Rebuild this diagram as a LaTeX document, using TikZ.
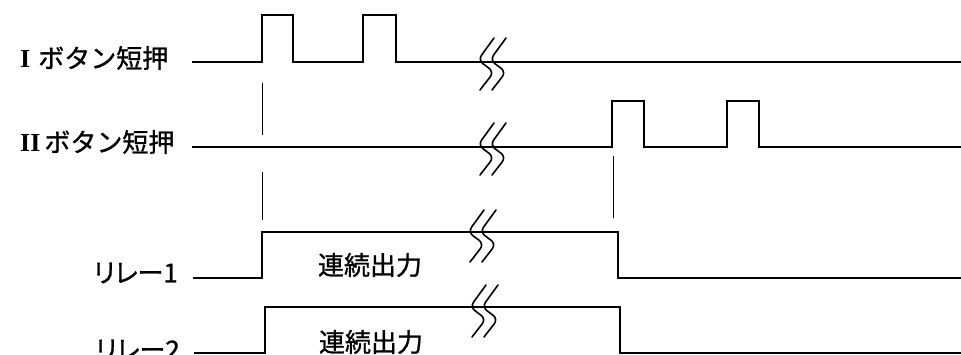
\documentclass[tikz,border=0pt]{standalone}
\usepackage{fontspec}
\newfontfamily\jp[FakeBold=1]{Noto Sans CJK JP}
\newfontfamily\jpp[RawFeature=+palt,FakeBold=1]{Noto Sans CJK JP}
\newfontfamily\rnum{Liberation Serif}
\tikzset{
  sig/.style={line width=2pt, line join=miter},
  guide/.style={line width=1pt},
  brkline/.style={line width=1.6pt, rounded corners=6pt, line cap=round},
  lbl/.style={font=\jp\fontsize{26}{26}\selectfont, inner sep=0pt},
  brkmark/.pic={
    \draw[brkline] (16,-22) -- (0,0) -- (16,12) -- (2,30);
    \draw[brkline] (28,-22) -- (12,0) -- (28,12) -- (14,30);
  }
}
\begin{document}
\begin{tikzpicture}[x=1pt,y=-1pt]
\useasboundingbox (0,0) rectangle (961,355);

% labels
\node[lbl, anchor=west] (lab1) at (20,58) {{\rnum\bfseries I}\hspace{8pt}ボタン短押};
\node[lbl, anchor=west] (lab2) at (20,142) {{\rnum\bfseries II}\hspace{4pt}ボタン短押};
\node[lbl, anchor=east] (lab3) at (178,273) {\jpp リレー1};
\node[lbl, anchor=east] (lab4) at (180,350) {\jpp リレー2};
\node[lbl] (out1) at (370,265) {連続出力};
\node[lbl] (out2) at (371,342) {連続出力};

% coordinates
\coordinate (s1) at (192,62);   \coordinate (e1) at (961,62);
\coordinate (s2) at (192,147.5); \coordinate (e2) at (961,147.5);
\coordinate (s3) at (193,278);  \coordinate (e3) at (961,278);
\coordinate (s4) at (194,353);  \coordinate (e4) at (961,353);

% signals
\draw[sig] (s1) -| (262,15) -| (293,62) -| (363,15) -| (396,62) -- (e1);
\draw[sig] (s2) -| (612,101) -| (644,147.5) -| (727,101) -| (759,147.5) -- (e2);
\draw[sig] (s3) -| (262,232) -| (618,278) -- (e3);
\draw[sig] (s4) -| (265,307) -| (620,353) -- (e4);

% guide lines
\coordinate (g1a) at (262,83);  \coordinate (g1b) at (262,135);
\coordinate (g2a) at (262,172); \coordinate (g2b) at (262,220);
\coordinate (g3a) at (613,156); \coordinate (g3b) at (613,218);
\draw[guide] (g1a) -- (g1b);
\draw[guide] (g2a) -- (g2b);
\draw[guide] (g3a) -- (g3b);

% break marks
\pic at (478,60) {brkmark};
\pic at (478,145) {brkmark};
\pic at (468,232) {brkmark};
\pic at (470,307) {brkmark};
\end{tikzpicture}
\end{document}
